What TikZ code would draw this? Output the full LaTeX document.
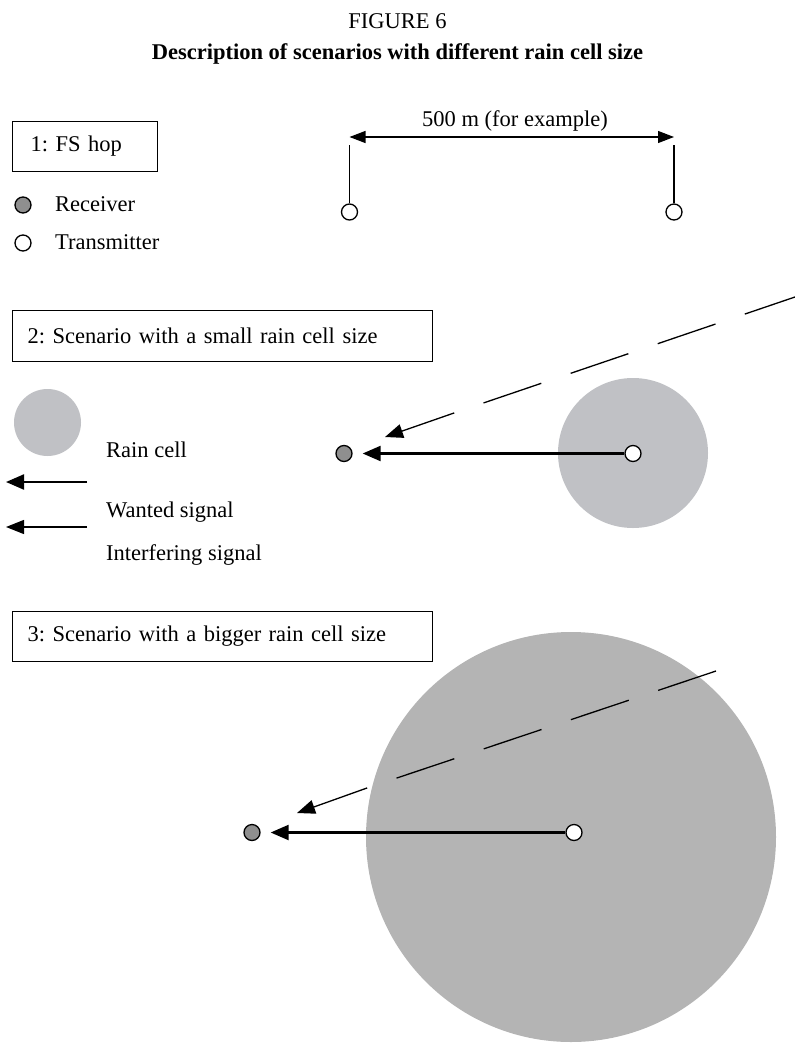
\documentclass[tikz,border=0pt]{standalone}
\usepackage{fontspec}
\setmainfont{Liberation Serif}
\usetikzlibrary{arrows.meta}
\definecolor{cellA}{HTML}{C0C1C5}
\definecolor{cellB}{HTML}{B4B4B4}
\definecolor{rxfill}{HTML}{8F8F8F}
\newcommand\figfont{\fontsize{22.5pt}{27pt}\selectfont\frenchspacing}
\frenchspacing
\begin{document}
\begin{tikzpicture}[x=1pt,y=-1pt,
  lbl/.style={font=\figfont, inner sep=0pt, anchor=base west},
  ctr/.style={font=\figfont, inner sep=0pt, anchor=base},
  scbox/.style={draw, line width=1.1pt, font=\figfont, anchor=north west, inner ysep=0pt, align=left},
  rxnode/.style={circle, draw, line width=1.3pt, fill=rxfill, minimum size=16pt, inner sep=0pt},
  txnode/.style={circle, draw, line width=1.3pt, fill=white, minimum size=16pt, inner sep=0pt},
  raincell/.style={circle, inner sep=0pt},
  wantedsig/.style={line width=2.2pt, -{Triangle[length=18pt,width=15pt]}},
  interfsig/.style={line width=1.3pt, -{Triangle[length=18pt,width=14pt]}},
  interfdash/.style={line width=1.3pt, dash pattern=on 61pt off 31pt},
  dimline/.style={line width=1.2pt, {Triangle[length=16pt,width=12pt]}-{Triangle[length=16pt,width=12pt]}},
  mast/.style={line width=1.5pt}]
\useasboundingbox (0,0) rectangle (795,1044);

% titles
\node[ctr] (fig) at (397.5,28) {FIGURE 6};
\node[ctr, font=\figfont\bfseries] (title) at (397.5,59.5) {Description of scenarios with different rain cell size};

% section 1
\node[scbox, text width=109pt, inner xsep=18pt, minimum height=50pt] (box1) at (12,121) {1: FS hop};
\node[rxnode] (legrx) at (23,205) {};
\node[txnode] (legtx) at (23,243) {};
\node[lbl] (legrxl) at (55,211.5) {Receiver};
\node[lbl] (legtxl) at (55,249) {Transmitter};

\node[txnode] (hopA) at (349.5,212) {};
\node[txnode] (hopB) at (674,212) {};
\coordinate (hopAtop) at (349.5,145);
\coordinate (hopBtop) at (674,145);
\draw[mast] (hopA) -- (hopAtop);
\draw[mast] (hopB) -- (hopBtop);
\coordinate (dimA) at (349.5,137);
\coordinate (dimB) at (674,137);
\draw[dimline] (dimA) -- (dimB);
\node[ctr] (dimlbl) at (515,126) {500 m (for example)};

% section 2
\node[scbox, text width=390pt, inner xsep=15pt, minimum height=51pt] (box2) at (12,310) {2: Scenario with a small rain cell size};
\node[raincell, fill=cellA, minimum size=67pt] (legcell) at (47.5,422.5) {};
\node[lbl] (legcelll) at (106,457) {Rain cell};
\coordinate (legwA) at (87,482);
\coordinate (legwB) at (6,482);
\draw[wantedsig] (legwA) -- (legwB);
\node[lbl] (legwl) at (106,517) {Wanted signal};
\coordinate (legiA) at (87,527);
\coordinate (legiB) at (6,527);
\draw[interfsig] (legiA) -- (legiB);
\node[lbl] (legil) at (106,560) {Interfering signal};

\node[raincell, fill=cellA, minimum size=150pt] (cell2) at (633,453) {};
\node[rxnode] (rx2) at (344,453.5) {};
\node[txnode] (tx2) at (633,453.5) {};
\draw[wantedsig, shorten >=10pt] (tx2) -- (rx2);
\coordinate (i2far) at (795,297);
\coordinate (i2mid) at (454,413);
\coordinate (i2tip) at (385,437);
\draw[interfdash, dash phase=8pt] (i2far) -- (i2mid);
\draw[interfsig] (i2mid) -- (i2tip);

% section 3
\node[scbox, text width=390pt, inner xsep=15pt, minimum height=50pt] (box3) at (12,611) {3: Scenario with a bigger rain cell size};
\node[raincell, fill=cellB, minimum size=410pt] (cell3) at (571,837) {};
\node[rxnode] (rx3) at (252,832.5) {};
\node[txnode] (tx3) at (574,832.5) {};
\draw[wantedsig, shorten >=10pt] (tx3) -- (rx3);
\coordinate (i3far) at (716,671);
\coordinate (i3mid) at (367,788);
\coordinate (i3tip) at (297,813);
\draw[interfdash] (i3far) -- (i3mid);
\draw[interfsig] (i3mid) -- (i3tip);
\end{tikzpicture}
\end{document}
